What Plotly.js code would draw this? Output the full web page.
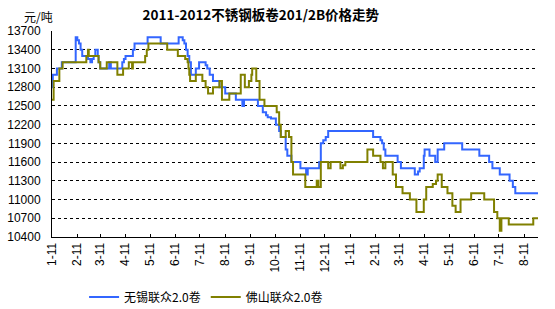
<!DOCTYPE html>
<html>
<head>
<meta charset="utf-8">
<script src="https://cdn.plot.ly/plotly-3.0.1.min.js"></script>
<style>html,body{margin:0;padding:0;background:#fff;}#chart{width:555px;height:309px;}</style>
</head>
<body>
<div id="chart"></div>
<script>
// 无锡联众2.0卷
var wxDates = ["2011-01-11","2011-01-12","2011-01-17","2011-01-23","2011-02-09","2011-02-11","2011-02-13","2011-02-15","2011-02-17","2011-02-24","2011-02-27","2011-03-01","2011-03-03","2011-03-05","2011-03-08","2011-03-09","2011-03-11","2011-03-22","2011-03-24","2011-04-07","2011-04-09","2011-04-11","2011-04-20","2011-04-22","2011-05-08","2011-05-24","2011-06-15","2011-06-20","2011-06-22","2011-06-24","2011-06-26","2011-06-28","2011-06-30","2011-07-06","2011-07-10","2011-07-18","2011-07-20","2011-07-23","2011-07-27","2011-08-04","2011-08-11","2011-08-24","2011-09-01","2011-09-03","2011-09-20","2011-09-26","2011-09-30","2011-10-02","2011-10-06","2011-10-12","2011-10-16","2011-10-18","2011-10-24","2011-10-26","2011-10-31","2011-11-11","2011-11-18","2011-11-20","2011-12-04","2011-12-06","2011-12-09","2011-12-12","2011-12-15","2012-02-08","2012-02-17","2012-02-19","2012-02-21","2012-02-23","2012-03-09","2012-03-13","2012-03-30","2012-04-03","2012-04-05","2012-04-10","2012-04-11","2012-04-17","2012-04-24","2012-04-27","2012-05-05","2012-05-27","2012-06-17","2012-06-29","2012-07-03","2012-07-12","2012-07-24","2012-07-28","2012-07-31","2012-08-28"];
var wxPrices = [12800,13000,13100,13200,13600,13550,13500,13400,13300,13250,13200,13250,13300,13400,13300,13200,13100,13200,13100,13200,13250,13300,13400,13500,13600,13500,13600,13550,13500,13400,13300,13200,13000,13100,13200,13150,13100,13000,12900,12800,12700,12600,12500,12600,12500,12400,12350,12320,12300,12200,12100,12000,11800,11700,11600,11500,11400,11500,11600,11900,11950,12000,12100,12000,11950,11900,11800,11700,11600,11500,11400,11450,11500,11700,11800,11700,11600,11800,11900,11800,11700,11600,11500,11400,11300,11200,11100,11100];

// 佛山联众2.0卷
var fsDates = ["2011-01-11","2011-01-13","2011-01-20","2011-01-24","2011-02-22","2011-02-24","2011-02-25","2011-03-09","2011-03-11","2011-03-19","2011-04-01","2011-04-08","2011-04-15","2011-04-19","2011-04-20","2011-05-05","2011-05-07","2011-05-09","2011-06-01","2011-06-14","2011-06-23","2011-06-26","2011-06-27","2011-06-28","2011-06-29","2011-07-06","2011-07-14","2011-07-18","2011-07-21","2011-07-27","2011-08-04","2011-08-07","2011-08-16","2011-08-30","2011-09-04","2011-09-09","2011-09-12","2011-09-13","2011-09-18","2011-09-22","2011-09-28","2011-10-13","2011-10-16","2011-10-18","2011-10-24","2011-10-28","2011-10-31","2011-11-02","2011-11-17","2011-12-01","2011-12-03","2011-12-06","2011-12-15","2011-12-18","2011-12-30","2012-01-02","2012-01-05","2012-02-01","2012-02-08","2012-02-17","2012-02-20","2012-02-23","2012-03-03","2012-03-07","2012-03-15","2012-03-24","2012-04-01","2012-04-10","2012-04-13","2012-04-21","2012-04-25","2012-04-27","2012-05-02","2012-05-09","2012-05-15","2012-05-19","2012-05-25","2012-06-07","2012-06-23","2012-07-05","2012-07-09","2012-07-12","2012-07-14","2012-07-23","2012-08-22","2012-08-28"];
var fsPrices = [12600,12900,13100,13200,13300,13400,13300,13200,13100,13200,13000,13100,13200,13100,13200,13300,13400,13500,13400,13300,13250,13200,13100,13000,12900,13000,12900,12800,12700,12800,12900,12600,12700,13000,12800,12900,13000,13100,12900,12600,12500,12400,12200,12000,12100,12000,11600,11400,11200,11300,11200,11600,11500,11600,11500,11550,11600,11800,11700,11600,11500,11600,11400,11200,11100,11000,10800,11000,11200,11250,11300,11400,11200,11100,10900,10800,11000,11100,11000,10800,10700,10500,10700,10600,10700,10700];

var tickDates = ["2011-01-11","2011-02-11","2011-03-11","2011-04-11","2011-05-11","2011-06-11","2011-07-11","2011-08-11","2011-09-11","2011-10-11","2011-11-11","2011-12-11","2012-01-11","2012-02-11","2012-03-11","2012-04-11","2012-05-11","2012-06-11","2012-07-11","2012-08-11"];
var tickLabels = ["1-11","2-11","3-11","4-11","5-11","6-11","7-11","8-11","9-11","10-11","11-11","12-11","1-11","2-11","3-11","4-11","5-11","6-11","7-11","8-11"];
var yTicks = [10400,10700,11000,11300,11600,11900,12200,12500,12800,13100,13400,13700];
var yLabels = ["10400","10700","11000","11300","11600","11900","12200","12500","12800","13100","13400","13700"];

var seriesNames = ["无锡联众2.0卷","佛山联众2.0卷"];
var titleText = "2011-2012不锈钢板卷201/2B价格走势";
var unitText = "元/吨";

var tickFont = {family: "Liberation Sans, Arial, sans-serif", size: 12, color: "#000"};

var traces = [
  {x: wxDates, y: wxPrices, name: seriesNames[0], type: "scatter", mode: "lines",
   line: {color: "#3366ff", width: 2, shape: "hv"}},
  {x: fsDates, y: fsPrices, name: seriesNames[1], type: "scatter", mode: "lines",
   line: {color: "#808000", width: 2, shape: "hv"}}
];

var layout = {
  width: 555, height: 309,
  margin: {l: 52, r: 17, t: 31, b: 72, pad: 0},
  paper_bgcolor: "#fff", plot_bgcolor: "#fff",
  title: {text: "<b>" + titleText + "</b>", x: 0.47, xanchor: "center", y: 0.951, yanchor: "middle",
          font: {family: "Noto Sans CJK SC, sans-serif", size: 13.5, color: "#000"}},
  xaxis: {type: "date", range: ["2011-01-11", "2012-08-27 19:00"],
          tickmode: "array", tickvals: tickDates, ticktext: tickLabels, tickangle: -90,
          ticks: "inside", ticklen: 3, tickcolor: "#000", tickwidth: 1,
          showline: true, linecolor: "#000", linewidth: 1, showgrid: false, zeroline: false,
          tickfont: tickFont, fixedrange: true},
  yaxis: {range: [10400, 13700], tickmode: "array", tickvals: yTicks, ticktext: yLabels,
          ticks: "", showline: true, linecolor: "#000", linewidth: 1,
          showgrid: true, gridcolor: "#000", gridwidth: 1, griddash: "3px,3px",
          zeroline: false, tickfont: tickFont, ticklabelstandoff: 8, fixedrange: true},
  showlegend: true,
  legend: {orientation: "h", x: 0.066, xanchor: "left", yref: "container", y: 0.039, yanchor: "middle",
           font: {family: "Noto Sans CJK SC, sans-serif", size: 12, color: "#000"},
           bgcolor: "rgba(0,0,0,0)", itemwidth: 30, tracegroupgap: 0},
  annotations: [{text: unitText, xref: "paper", yref: "paper", x: -0.027, y: 1.069,
                 xanchor: "center", yanchor: "middle", showarrow: false,
                 font: {family: "Noto Sans CJK SC, sans-serif", size: 12, color: "#000"}}]
};

Plotly.newPlot("chart", traces, layout, {staticPlot: true, displayModeBar: false});
</script>
</body>
</html>
